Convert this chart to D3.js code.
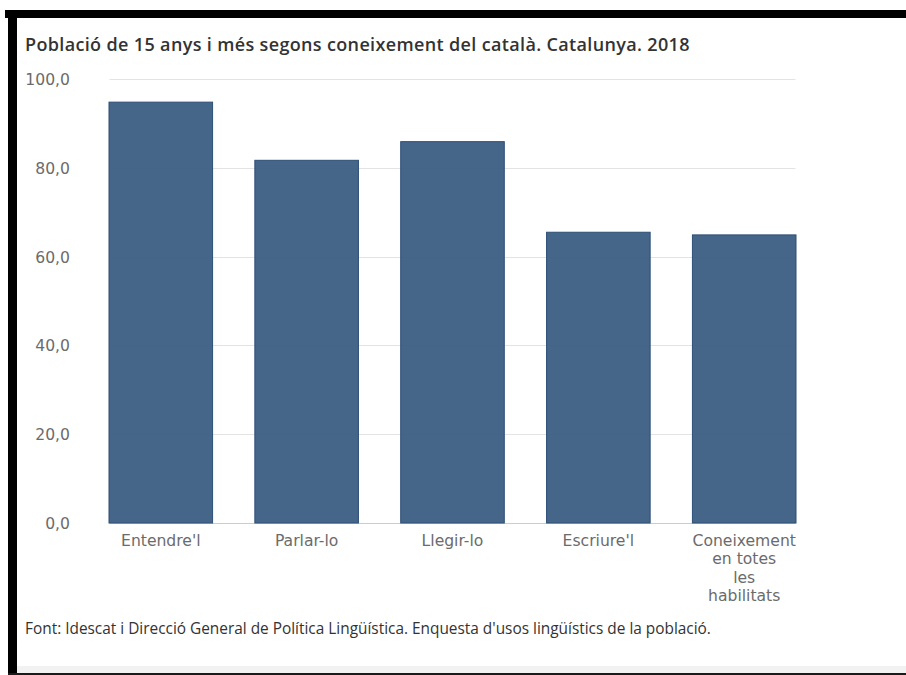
<!DOCTYPE html>
<html>
<head>
<meta charset="utf-8">
<script src="https://cdn.jsdelivr.net/npm/d3@7"></script>
<style>
  html, body { margin: 0; padding: 0; background: #ffffff; }
  svg { display: block; }
</style>
</head>
<body>
<div id="chart"></div>
<script>

// data
const categories = ["Entendre'l", "Parlar-lo", "Llegir-lo", "Escriure'l", "Coneixement en totes les habilitats"];
const values = [94.9, 81.8, 86.0, 65.6, 65.0];
const yTicks = [0, 20, 40, 60, 80, 100];

const titleText = "Població de 15 anys i més segons coneixement del català. Catalunya. 2018";
const sourceText = "Font: Idescat i Direcció General de Política Lingüística. Enquesta d'usos lingüístics de la població.";

const W = 906, H = 675;
const margin = { left: 108.5, right: 109.5, top: 79, bottom: 152 };

const locale = d3.formatLocale({ decimal: ",", thousands: ".", grouping: [3], currency: ["", " €"] });
const fmt = locale.format(".1f");

function createFrame(svg) {

    try {

        svg.append('rect').attr('x', 0).attr('y', 0).attr('width', W).attr('height', H).attr('fill', '#ffffff');
        // light strip at the bottom of the panel
        svg.append('rect').attr('x', 17).attr('y', 666).attr('width', W - 17).attr('height', 7).attr('fill', '#f2f2f2');
        // black frame (top, left, bottom)
        svg.append('rect').attr('x', 5).attr('y', 10).attr('width', W - 5).attr('height', 8).attr('fill', '#000000');
        svg.append('rect').attr('x', 8).attr('y', 10).attr('width', 9).attr('height', H - 10).attr('fill', '#000000');
        svg.append('rect').attr('x', 8).attr('y', 673).attr('width', W - 8).attr('height', 2).attr('fill', '#1a1a1a');

    } catch (error) {

        console.log('Function: createFrame. Error: ' + error);
    }
}

function wrapLabel(textSel, maxWidth) {

    textSel.each(function () {
        let text = d3.select(this);
        let words = text.text().split(/\s+/);
        let x = text.attr('x');
        text.text(null);
        let lines = [];
        let line = [];
        let probe = text.append('tspan').attr('x', x);
        words.forEach(w => {
            line.push(w);
            probe.text(line.join(' '));
            if (probe.node().getComputedTextLength() > maxWidth && line.length > 1) {
                line.pop();
                lines.push(line.join(' '));
                line = [w];
            }
        });
        lines.push(line.join(' '));
        probe.remove();
        lines.forEach((l, i) => {
            text.append('tspan').attr('x', x).attr('dy', i === 0 ? 0 : 18.3).text(l);
        });
    });
}

function createBarChart(svg) {

    try {

        let x = d3.scaleBand()
            .domain(categories)
            .range([margin.left, W - margin.right])
            .paddingInner(0.283)
            .paddingOuter(0);

        let y = d3.scaleLinear()
            .domain([0, 100])
            .range([H - margin.bottom, margin.top]);

        // gridlines
        svg.append('g').selectAll('line')
            .data(yTicks).enter()
            .append('line')
            .attr('x1', margin.left + 1)
            .attr('x2', W - margin.right - 1)
            .attr('y1', d => Math.round(y(d)) + 0.5)
            .attr('y2', d => Math.round(y(d)) + 0.5)
            .attr('stroke', d => d === 0 ? '#cccccc' : '#e3e3e3')
            .attr('stroke-width', 1);

        // y axis labels
        svg.append('g').selectAll('text')
            .data(yTicks).enter()
            .append('text')
            .attr('x', 70)
            .attr('y', d => y(d) + 6)
            .attr('text-anchor', 'end')
            .attr('font-family', 'DejaVu Sans, Verdana, sans-serif')
            .attr('font-size', 15.6)
            .attr('fill', '#6b6b6b')
            .text(d => fmt(d));

        // bars
        svg.append('g').selectAll('rect')
            .data(values).enter()
            .append('rect')
            .attr('x', (d, i) => x(categories[i]) + 0.5)
            .attr('y', d => y(d) + 0.5)
            .attr('width', x.bandwidth() - 1)
            .attr('height', d => y(0) - y(d) - 0.5)
            .attr('fill', '#3f6085')
            .attr('fill-opacity', 0.97)
            .attr('stroke', '#2d4f77')
            .attr('stroke-width', 1);

        // x axis labels
        let labels = svg.append('g').selectAll('text')
            .data(categories).enter()
            .append('text')
            .attr('x', d => x(d) + x.bandwidth() / 2)
            .attr('y', 546)
            .attr('text-anchor', 'middle')
            .attr('font-family', 'DejaVu Sans, Verdana, sans-serif')
            .attr('font-size', 15.6)
            .attr('fill', '#6b6b6b')
            .text(d => d);
        wrapLabel(labels, 85);

    } catch (error) {

        console.log('Function: createBarChart. Error: ' + error);
    }
}

function createTexts(svg) {

    try {

        svg.append('text')
            .attr('x', 25)
            .attr('y', 51)
            .attr('font-family', 'Open Sans, sans-serif')
            .attr('font-weight', 600)
            .attr('font-size', 18)
            .attr('letter-spacing', 0.35)
            .attr('fill', '#333333')
            .text(titleText);

        svg.append('text')
            .attr('x', 25)
            .attr('y', 634)
            .attr('font-family', 'Open Sans, sans-serif')
            .attr('font-size', 15.4)
            .attr('fill', '#333333')
            .text(sourceText);

    } catch (error) {

        console.log('Function: createTexts. Error: ' + error);
    }
}

let svg = d3.select('#chart')
    .append('svg')
    .attr('width', W)
    .attr('height', H)
    .attr('viewBox', '0 0 ' + W + ' ' + H);

createFrame(svg);
createBarChart(svg);
createTexts(svg);

</script>
</body>
</html>
